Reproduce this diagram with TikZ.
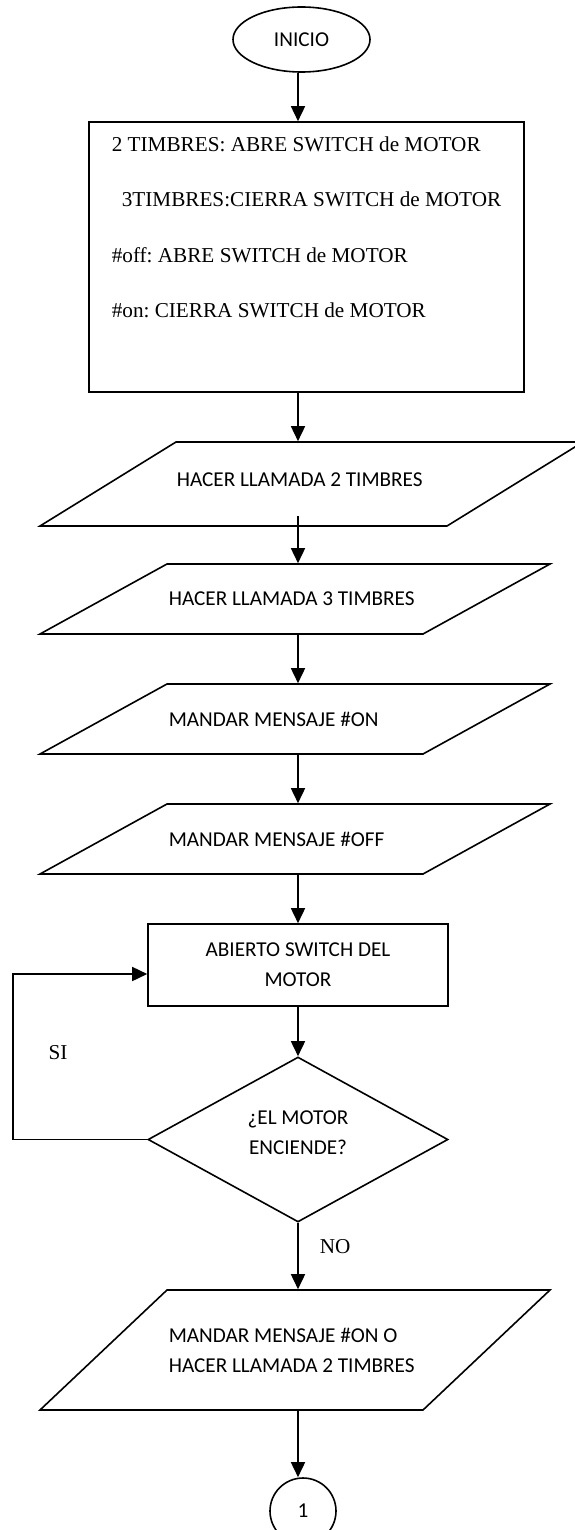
\documentclass[tikz,border=0pt]{standalone}
\usepackage{fontspec}
\setmainfont{Liberation Serif}
\newfontfamily\calibri{Carlito}
\usetikzlibrary{arrows.meta,shapes.geometric}
\frenchspacing

\begin{document}
\begin{tikzpicture}[x=1pt,y=-1pt,line width=1.6pt,
                flecha/.style={-{Triangle[length=15pt,width=14pt]}},
                txt/.style={font=\calibri\fontsize{21.2}{30}\selectfont},
                rmn/.style={font=\fontsize{21.2}{30}\selectfont,inner sep=0pt}]
                \useasboundingbox (0,0) rectangle (574,1530);
                \coordinate (eje) at (298,0);
                \node[draw,ellipse,txt,minimum width=137pt,minimum height=65pt,inner sep=0pt] (inicio) at (301.5,39.5) {INICIO};
                \node[draw,minimum width=435pt,minimum height=270pt] (reglas) at (306.5,257) {};
                \node[rmn,anchor=base west] (r1) at (111,152) {2 TIMBRES: ABRE SWITCH de MOTOR};
                \node[rmn,anchor=base west] (r2) at (121,207) {3TIMBRES:CIERRA SWITCH de MOTOR};
                \node[rmn,anchor=base west] (r3) at (111,262) {\#off: ABRE SWITCH de MOTOR};
                \node[rmn,anchor=base west] (r4) at (111,317) {\#on: CIERRA SWITCH de MOTOR};
                \draw (176,442)--(583,442)--(447,526)--(40,526)--cycle;
                \node[txt,anchor=west,inner sep=0pt,minimum height=84pt,text depth=8pt] (llamada2) at (176,484) {HACER LLAMADA 2 TIMBRES};
                \draw (167,564)--(550,564)--(423,634)--(40,634)--cycle;
                \node[txt,anchor=west,inner sep=0pt,minimum height=70pt] (llamada3) at (168,599) {HACER LLAMADA 3 TIMBRES};
                \draw (167,684)--(550,684)--(423,754)--(40,754)--cycle;
                \node[txt,anchor=west,inner sep=0pt,minimum height=70pt] (msjon) at (168,719) {MANDAR MENSAJE \#ON};
                \draw (167,804)--(550,804)--(423,874)--(40,874)--cycle;
                \node[txt,anchor=west,inner sep=0pt,minimum height=70pt] (msjoff) at (168,839) {MANDAR MENSAJE \#OFF};
                \node[draw,txt,align=center,minimum width=300pt,minimum height=82pt,inner sep=0pt] (abierto) at (298,965) {ABIERTO SWITCH DEL\\MOTOR};
                \node[draw,diamond,txt,align=center,minimum width=300pt,minimum height=165pt,inner sep=0pt,text depth=14pt] (enciende) at (298,1139.5) {¿EL MOTOR\\ENCIENDE?};
                \draw (167,1290)--(550,1290)--(423,1410)--(40,1410)--cycle;
                \node[txt,anchor=west,align=left,inner sep=0pt,minimum height=120pt] (reintento) at (168,1350) {MANDAR MENSAJE \#ON O\\HACER LLAMADA 2 TIMBRES};
                \node[draw,circle,txt,minimum size=66pt,inner sep=0pt] (conector) at (303,1511) {1};
                \draw[flecha] (inicio.south -| eje)--(reglas.north -| eje);
                \draw[flecha] (reglas.south -| eje)--(llamada2.north -| eje);
                \draw[flecha] ([yshift=11pt]llamada2.south -| eje)--(llamada3.north -| eje);
                \draw[flecha] (llamada3.south -| eje)--(msjon.north -| eje);
                \draw[flecha] (msjon.south -| eje)--(msjoff.north -| eje);
                \draw[flecha] (msjoff.south -| eje)--(abierto.north);
                \draw[flecha] (abierto.south)--(enciende.north);
                \draw[flecha] (enciende.south)--node[rmn,right=21pt,pos=0.36]{NO}(reintento.north -| eje);
                \draw[flecha] (reintento.south -| eje)--(conector.north -| eje);
                \draw[flecha] (enciende.west)--++(-134,0)|-([yshift=-9pt]abierto.west);
                \node[rmn] (si) at (58,1053) {SI};
            \end{tikzpicture}
\end{document}
